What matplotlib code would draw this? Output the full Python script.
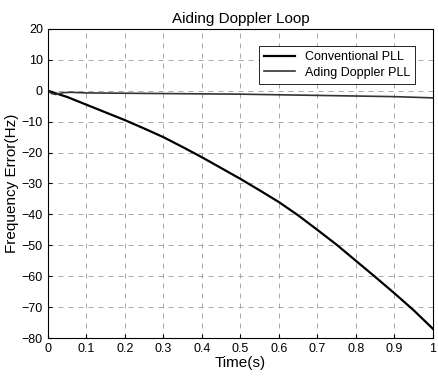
import matplotlib
matplotlib.use('Agg')
import matplotlib.pyplot as plt
import numpy as np

plt.rcParams['font.family'] = ['Liberation Sans', 'DejaVu Sans']

# conventional PLL frequency error (Hz)
t_conv = [0.0, 0.02, 0.05, 0.1, 0.15, 0.2, 0.25, 0.3, 0.35, 0.4, 0.45, 0.5,
          0.55, 0.6, 0.65, 0.7, 0.75, 0.8, 0.85, 0.9, 0.95, 1.0]
f_conv = [0.0, -0.8, -2.0, -4.5, -7.0, -9.5, -12.2, -15.0, -18.2, -21.5, -25.0, -28.5,
          -32.2, -36.0, -40.3, -45.0, -49.8, -55.0, -60.2, -65.5, -71.0, -77.0]

# aided doppler PLL frequency error (Hz)
t_aid = [0.0, 0.01, 0.02, 0.04, 0.06, 0.1, 0.2, 0.3, 0.4, 0.5, 0.6, 0.7, 0.8, 0.9, 1.0]
f_aid = [0.0, -0.9, -1.2, -0.6, -0.5, -0.7, -0.8, -0.9, -1.0, -1.1, -1.3, -1.5, -1.7, -1.9, -2.3]

fig = plt.figure(figsize=(4.39, 3.76), dpi=100)
ax = fig.add_axes([0.109, 0.101, 0.877, 0.822])

ax.plot(t_conv, f_conv, color='black', lw=1.6, label='Conventional PLL')
ax.plot(t_aid, f_aid, color='#333333', lw=1.2, label='Ading Doppler PLL')

ax.set_xlim(0, 1)
ax.set_ylim(-80, 20)
ax.set_xticks(np.arange(0, 1.01, 0.1))
ax.set_xticklabels(['0', '0.1', '0.2', '0.3', '0.4', '0.5', '0.6', '0.7', '0.8', '0.9', '1'])
ax.set_yticks(np.arange(-80, 21, 10))
ax.tick_params(labelsize=9, direction='in', length=3)
ax.grid(True, linestyle=(0, (6, 6)), color='#999999', lw=0.6)

ax.set_title('Aiding Doppler Loop', fontsize=11, pad=4)
ax.set_xlabel('Time(s)', fontsize=11, labelpad=1)
ax.set_ylabel('Frequency Error(Hz)', fontsize=11, labelpad=2)

leg = ax.legend(loc='upper right', bbox_to_anchor=(0.97, 0.965), fontsize=9,
                fancybox=False, edgecolor='black', framealpha=1,
                handlelength=2.5, borderpad=0.4, labelspacing=0.3)
leg.get_frame().set_linewidth(0.6)

fig.savefig('out.png', dpi=100)
